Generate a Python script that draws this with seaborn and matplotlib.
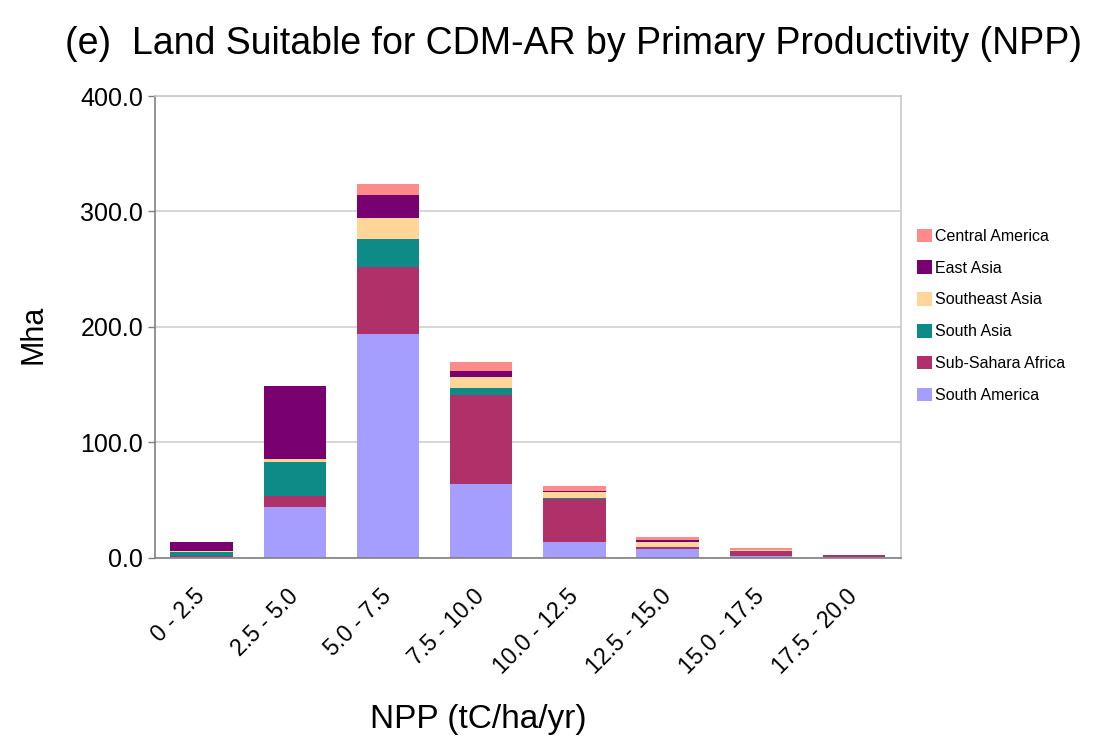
import numpy as np
import pandas as pd
import matplotlib
matplotlib.use("Agg")
import matplotlib.pyplot as plt
import seaborn as sns

# NPP classes (tC/ha/yr)
npp_classes = ["0 - 2.5", "2.5 - 5.0", "5.0 - 7.5", "7.5 - 10.0",
               "10.0 - 12.5", "12.5 - 15.0", "15.0 - 17.5", "17.5 - 20.0"]

# Mha per region (bottom of stack first)
south_america = [1.0, 44.0, 194.0, 64.0, 14.0, 7.5, 2.0, 1.0]
sub_sahara = [0.5, 10.0, 58.0, 77.0, 37.0, 2.0, 4.0, 1.3]
south_asia = [4.0, 29.0, 24.0, 6.0, 1.0, 0.3, 0.3, 0.1]
southeast_asia = [0.2, 3.0, 18.0, 9.5, 5.0, 4.3, 0.3, 0.1]
east_asia = [8.3, 63.0, 20.0, 5.0, 1.0, 1.5, 0.3, 0.1]
central_america = [0.0, 0.0, 10.0, 8.0, 4.0, 2.3, 1.5, 0.0]

regions = ["South America", "Sub-Sahara Africa", "South Asia",
           "Southeast Asia", "East Asia", "Central America"]
colors = ["#A59EFF", "#B0306A", "#0E8A87", "#FFD59A", "#780070", "#FF8A8A"]

df = pd.DataFrame({"South America": south_america,
                   "Sub-Sahara Africa": sub_sahara,
                   "South Asia": south_asia,
                   "Southeast Asia": southeast_asia,
                   "East Asia": east_asia,
                   "Central America": central_america},
                  index=npp_classes)
cum = df[regions].cumsum(axis=1)

sns.set_style("white", {"text.color": "black", "axes.labelcolor": "black",
                        "xtick.color": "black", "ytick.color": "black"})
plt.rcParams["font.family"] = ["Liberation Sans", "DejaVu Sans"]

fig = plt.figure(figsize=(11.03, 7.53), dpi=100)
ax = fig.add_axes([0.1405, 0.259, 0.676, 0.6135])

# draw top layer first, each bar is the cumulative total up to that region
for reg, col in zip(regions[::-1], colors[::-1]):
    sns.barplot(x=npp_classes, y=cum[reg].values, color=col, saturation=1,
                width=0.67, ax=ax, label=reg, linewidth=0)

ax.set_ylim(0, 400)
ax.set_xlim(-0.5, len(npp_classes) - 0.5)
ax.set_yticks([0, 100, 200, 300, 400])
ax.set_yticklabels([f"{v:.1f}" for v in [0, 100, 200, 300, 400]], fontsize=18)
ax.yaxis.grid(True, color="#CFCFCF", linewidth=1.2)
ax.set_axisbelow(True)

ax.set_xticks(range(len(npp_classes)))
ax.set_xticklabels(npp_classes, rotation=45, ha="right", va="center",
                   rotation_mode="anchor", fontsize=16.5)
ax.set_xticks(np.arange(-0.5, len(npp_classes), 1.0), minor=True)
ax.tick_params(axis="x", which="major", length=0, pad=25)
ax.tick_params(axis="x", which="minor", length=6, color="#808080", width=1)
ax.tick_params(axis="y", length=5, color="#808080", width=1, left=True)

for s in ["left", "bottom"]:
    ax.spines[s].set_color("#808080")
    ax.spines[s].set_linewidth(1.2)
for s in ["top", "right"]:
    ax.spines[s].set_color("#C8C8C8")
    ax.spines[s].set_linewidth(1.2)

ax.set_ylabel("Mha", fontsize=22)
ax.yaxis.set_label_coords(-0.143, 0.485)
ax.set_xlabel("NPP (tC/ha/yr)", fontsize=24)
ax.xaxis.set_label_coords(0.434, -0.316)

fig.text(0.059, 0.942, "(e)  Land Suitable for CDM-AR by Primary Productivity (NPP)",
         fontsize=27, va="center", ha="left")

ax.legend(loc="upper left", bbox_to_anchor=(0.826, 0.705),
          bbox_transform=fig.transFigure, frameon=False, fontsize=11.5,
          handlelength=0.9, handleheight=0.9, handletextpad=0.2,
          labelspacing=1.05, borderaxespad=0)

fig.savefig("out.png", dpi=100)
